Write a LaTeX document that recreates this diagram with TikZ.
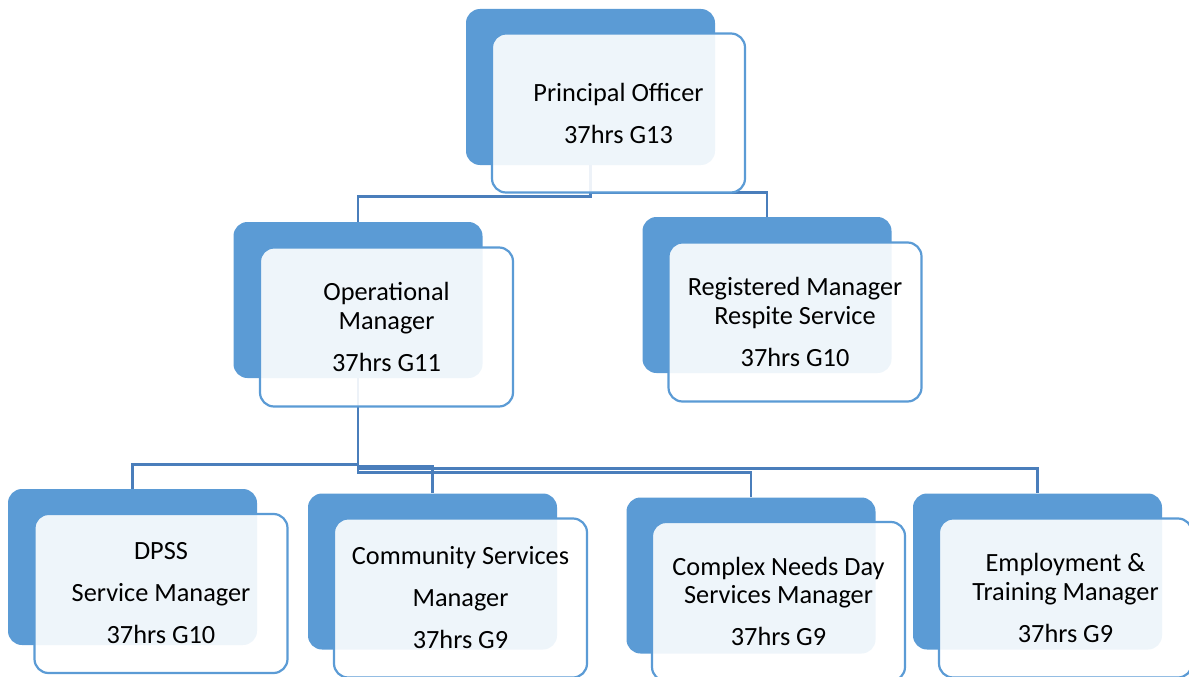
\documentclass[tikz,border=0pt]{standalone}
\usepackage{fontspec}
\setmainfont{Carlito}
\definecolor{boxblue}{HTML}{5B9BD5}
\definecolor{linkblue}{HTML}{4A7EBB}
\begin{document}
\begin{tikzpicture}[x=1pt,y=-1pt,
  back/.style={fill=boxblue, rounded corners=14pt, minimum width=249pt, minimum height=156pt, inner sep=0pt},
  front/.style={draw=boxblue, line width=2.2pt, fill=white, fill opacity=0.9, text opacity=1,
    rounded corners=14pt, minimum width=253pt, minimum height=159pt, align=center,
    font=\fontsize{26.3}{28.5}\selectfont, inner sep=0pt},
  link/.style={draw=linkblue, line width=2.8pt}]
\useasboundingbox (0,0) rectangle (1189,677);
% back boxes
\node[back] (poB) at (590.5,87) {};
\node[back] (omB) at (358,300) {};
\node[back] (rmB) at (767,295) {};
\node[back] (dpB) at (132.5,567) {};
\node[back] (csB) at (432.5,571.5) {};
\node[back] (cnB) at (751,575.5) {};
\node[back] (etB) at (1037.5,571.5) {};
% connectors
\draw[link] (poB.south) -- ++(0,31) -| (omB.north);
\draw[link] (poB.south) -- ++(0,27) -| (rmB.north);
\draw[link] (omB.south) -- ++(0,86) -| (dpB.north);
\draw[link] (omB.south) -- ++(0,88) -| (csB.north);
\draw[link] (omB.south) -- ++(0,90) -| (etB.north);
\draw[link] (omB.south) -- ++(0,94) -| (cnB.north);
% front boxes
\node[front] (po) at (618.5,113) {Principal Officer\\[13.5pt]37hrs G13};
\node[front] (om) at (386.5,327) {Operational\\Manager\\[13.5pt]37hrs G11};
\node[front] (rm) at (795,322) {Registered Manager\\Respite Service\\[13.5pt]37hrs G10};
\node[front] (dp) at (161,593.5) {DPSS\\[13.5pt]Service Manager\\[13.5pt]37hrs G10};
\node[front] (cs) at (460.5,598) {Community Services\\[13.5pt]Manager\\[13.5pt]37hrs G9};
\node[front] (cn) at (778.5,601.5) {Complex Needs Day\\Services Manager\\[13.5pt]37hrs G9};
\node[front] (et) at (1065.5,598) {Employment \&\\Training Manager\\[13.5pt]37hrs G9};
\end{tikzpicture}
\end{document}
